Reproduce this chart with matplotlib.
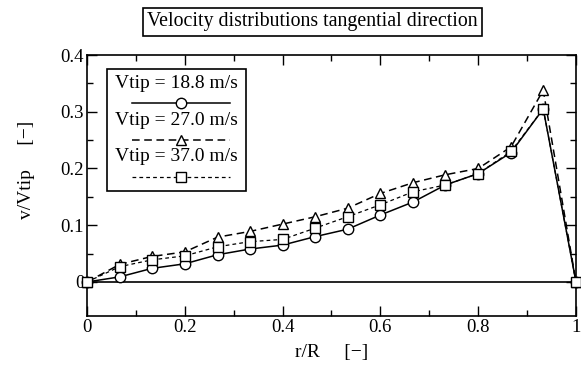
import matplotlib
matplotlib.use('Agg')
import matplotlib.pyplot as plt
import numpy as np
from matplotlib.lines import Line2D
from matplotlib.patches import Rectangle

# r/R positions (16 measuring points)
r_R = [0.0, 0.067, 0.133, 0.2, 0.267, 0.333, 0.4, 0.467, 0.533, 0.6,
       0.667, 0.733, 0.8, 0.867, 0.933, 1.0]

v_188 = [0.0, 0.009, 0.024, 0.032, 0.048, 0.058, 0.065, 0.080, 0.093, 0.118,
         0.141, 0.171, 0.191, 0.228, 0.305, 0.0]
v_270 = [0.0, 0.031, 0.045, 0.053, 0.079, 0.089, 0.102, 0.115, 0.130, 0.156,
         0.175, 0.189, 0.200, 0.238, 0.338, 0.0]
v_370 = [0.0, 0.027, 0.039, 0.046, 0.062, 0.071, 0.075, 0.095, 0.115, 0.136,
         0.159, 0.171, 0.191, 0.230, 0.305, 0.0]

labels = ['Vtip = 18.8 m/s', 'Vtip = 27.0 m/s', 'Vtip = 37.0 m/s']
xticks = [0, 0.2, 0.4, 0.6, 0.8, 1.0]
xticklabels = ['0', '0.2', '0.4', '0.6', '0.8', '1']
yticks = [0, 0.1, 0.2, 0.3, 0.4]
yticklabels = ['0', '0.1', '0.2', '0.3', '0.4']

plt.rcParams['font.family'] = ['Liberation Serif', 'DejaVu Serif']
plt.rcParams['font.size'] = 13.5

fig = plt.figure(figsize=(5.81, 3.65), dpi=100)
ax = fig.add_axes([0.1497, 0.1342, 0.9914 - 0.1497, 0.8493 - 0.1342])

styles = [
    dict(ls='-', marker='o', lw=1.1),
    dict(ls=(0, (5, 3)), marker='^', lw=1.1),
    dict(ls=(0, (3, 2.5)), marker='s', lw=0.9),
]
series = [v_188, v_270, v_370]

for vals, st in zip(series, styles):
    ax.plot(r_R, vals, color='black', ls=st['ls'], lw=st['lw'],
            marker=st['marker'], ms=7.5, mfc='white', mec='black', mew=1.0,
            clip_on=False, zorder=3)

ax.axhline(0, color='black', lw=1.2, zorder=2)

ax.set_xlim(0, 1)
ax.set_ylim(-0.06, 0.4)
ax.set_xticks(xticks)
ax.set_xticklabels(xticklabels)
ax.set_yticks(yticks)
ax.set_yticklabels(yticklabels)
ax.set_xticks(np.arange(0.1, 1.0, 0.2), minor=True)
ax.set_yticks([0.05, 0.15, 0.25, 0.35], minor=True)
ax.tick_params(which='both', direction='in', top=True, right=True, width=1.0)
ax.tick_params(which='major', length=7, labelsize=13.5)
ax.tick_params(axis='x', which='major', pad=2)
ax.tick_params(axis='y', which='major', pad=2)
ax.tick_params(which='minor', length=4)
for sp in ax.spines.values():
    sp.set_linewidth(1.2)

ax.set_xlabel('r/R     [\u2212]', fontsize=14, labelpad=6)
ax.set_ylabel('v/Vtip     [\u2212]', fontsize=14)
ax.yaxis.set_label_coords(-0.106, 0.56)

fig.text(0.538, 0.94, 'Velocity distributions tangential direction',
         ha='center', va='center', fontsize=14.3,
         bbox=dict(boxstyle='square,pad=0.22', fc='white', ec='black', lw=1.2))

# hand-made legend: label text above each line sample
ax.add_patch(Rectangle((0.041, 0.479), 0.284, 0.467, transform=ax.transAxes,
                       fill=False, ec='black', lw=1.2, zorder=5))
text_y = [0.89, 0.75, 0.61]
line_y = [0.816, 0.674, 0.533]
for lab, st, ty, ly in zip(labels, styles, text_y, line_y):
    ax.text(0.183, ty, lab, transform=ax.transAxes, ha='center', va='center',
            fontsize=14, zorder=6)
    ax.add_line(Line2D([0.092, 0.192, 0.292], [ly, ly, ly], transform=ax.transAxes,
                       color='black', ls=st['ls'], lw=st['lw'], marker=st['marker'],
                       markevery=[1], ms=7.5, mfc='white', mec='black', zorder=6))

fig.savefig('out.png', dpi=100)
